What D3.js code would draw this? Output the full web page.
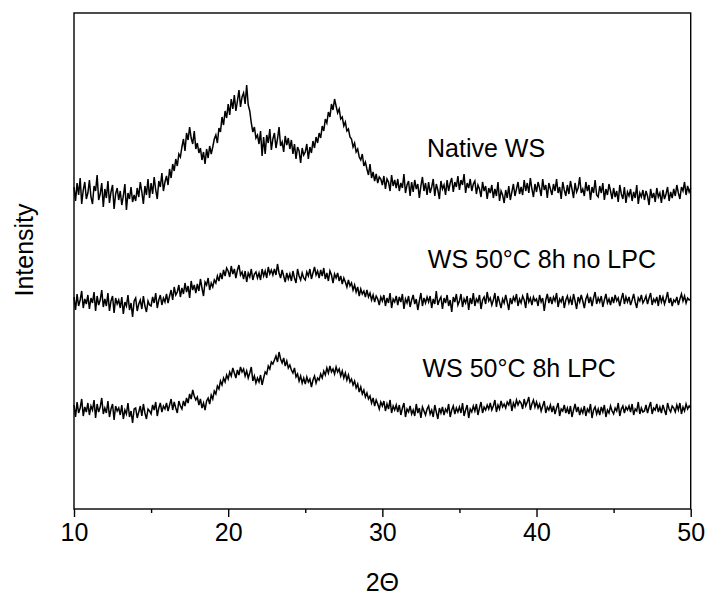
<!DOCTYPE html>
<html>
<head>
<meta charset="utf-8">
<script src="https://cdn.jsdelivr.net/npm/d3@7/dist/d3.min.js"></script>
<style>
  html, body { margin: 0; padding: 0; background: #fff; }
  svg { display: block; font-family: Arial, "Liberation Sans", Helvetica, sans-serif; }
</style>
</head>
<body>
<svg id="chart" width="708" height="595"></svg>
<script>
// 2θ grid: 10.0 to 50.0, step 0.1
const twoThetaStart = 10;
const twoThetaStep = 0.1;

const xTicks = [10, 20, 30, 40, 50];
const xMinorTicks = [15, 25, 35, 45];
const seriesNames = ["Native WS", "WS 50\u00B0C 8h no LPC", "WS 50\u00B0C 8h LPC"];

const nativeWS = [
322,308,326,314,331,305,319,327,310,316,
329,312,305,323,318,334,309,315,326,302,
320,311,328,306,317,324,300,315,321,309,
318,304,313,325,299,316,310,322,307,314,
308,321,312,327,317,305,323,314,330,311,
326,315,332,319,310,328,322,336,318,327,
333,324,340,331,345,338,350,343,355,352,
362,370,358,376,369,382,371,365,378,360,
366,356,361,349,357,345,360,351,363,355,
362,370,374,366,381,377,392,384,398,391,
405,394,410,400,414,398,408,419,402,412,
416,405,424,404,398,386,377,382,371,374,
365,378,353,372,355,374,366,380,359,370,
376,361,370,382,363,367,357,373,364,371,
360,369,355,365,350,362,358,346,361,354,
357,365,350,362,356,368,361,372,366,376,
371,383,378,390,386,397,392,405,399,410,
403,396,400,390,392,383,387,378,380,372,
370,362,366,357,360,352,349,355,343,347,
340,334,345,331,337,328,335,326,332,330,
324,333,320,330,327,318,334,323,329,321,
330,318,326,321,335,316,324,328,313,327,
317,329,320,325,311,323,332,318,326,314,
327,316,322,330,313,325,319,310,328,320,
324,314,329,318,326,331,317,327,322,333,
319,329,324,335,316,326,321,330,318,325,
328,315,324,320,312,327,318,323,310,321,
316,324,311,320,313,327,308,318,314,306,
319,311,323,309,317,325,313,320,327,315,
322,314,329,318,326,316,331,320,312,325,
317,327,321,313,330,319,324,311,326,320,
314,325,318,330,316,322,310,327,319,313,
324,315,328,320,311,326,317,321,332,316,
320,313,327,318,324,309,322,316,329,314,
312,323,316,326,309,320,314,325,318,310,
321,312,318,307,324,315,310,322,306,317,
313,320,308,317,311,324,305,316,312,319,
309,318,313,304,320,311,316,307,321,312,
316,306,319,310,315,322,308,317,311,320,
313,324,316,310,322,318,327,314,323,317,
321];

const ws50NoLPC = [
212,199,215,203,209,218,201,210,205,214,
200,211,206,217,198,213,204,209,219,202,
210,203,216,198,208,213,196,211,205,209,
201,212,195,207,203,214,199,206,192,208,
211,198,205,209,200,213,203,197,208,204,
203,212,206,216,201,209,214,204,211,207,
215,206,213,219,209,222,214,217,224,212,
221,215,226,217,223,211,228,219,224,216,
225,218,230,221,213,227,224,231,219,226,
222,229,226,233,228,236,230,239,233,241,
238,232,243,235,240,231,239,244,234,237,
230,238,227,236,232,240,229,235,237,231,
236,229,240,233,238,231,242,235,239,234,
240,234,245,236,231,239,233,227,236,230,
235,228,238,231,226,240,233,229,236,231,
229,237,233,240,230,236,242,234,238,231,
239,233,241,230,236,228,238,234,226,235,
231,236,228,233,225,231,227,222,229,223,
226,219,224,217,222,213,220,215,218,212,
219,212,216,209,214,207,213,210,204,212,
208,214,203,211,206,216,201,210,207,213,
204,212,207,215,200,210,206,213,202,209,
214,205,210,199,208,216,203,211,206,212,
207,213,201,210,205,218,204,209,212,200,
211,206,214,203,209,197,212,207,215,204,
208,215,202,210,206,213,199,211,205,216,
203,210,207,214,200,209,212,205,217,208,
211,204,209,216,202,213,207,201,210,206,
214,207,199,211,205,212,208,215,203,210,
206,213,209,201,216,207,211,204,212,208,
210,203,214,207,211,198,209,215,206,212,
205,212,208,216,202,210,207,213,201,209,
213,206,211,204,215,208,200,212,207,214,
208,201,210,214,206,212,203,211,217,205,
211,207,213,202,209,215,206,210,204,212,
206,214,208,211,203,210,216,205,212,207,
212,204,209,215,207,201,211,208,214,206,
209,213,205,211,216,204,210,207,212,203,
214,207,212,205,210,217,206,211,203,209,
207,212,204,210,215,208,213,206,211,209,
210];

const ws50LPC = [
104,92,107,96,101,110,93,102,97,106,
94,103,99,109,91,105,97,102,111,95,
101,96,108,92,100,105,89,103,98,101,
94,104,90,99,95,106,92,98,86,100,
101,91,97,103,93,105,96,90,100,98,
95,104,99,107,93,101,106,97,103,100,
106,98,104,110,99,107,101,96,108,103,
100,108,103,111,106,115,110,119,113,109,
112,104,110,101,106,99,108,111,105,114,
110,118,115,123,120,128,124,131,127,134,
130,137,133,141,136,131,139,134,142,137,
140,133,138,131,136,142,128,133,126,131,
127,134,124,131,137,135,143,140,147,145,
149,153,147,157,150,146,151,143,148,141,
144,139,136,141,132,135,128,133,126,131,
125,132,127,130,122,129,133,126,131,129,
135,131,138,134,141,136,143,137,140,135,
142,137,140,133,138,131,136,129,134,127,
130,124,128,121,125,117,122,115,119,112,
116,110,113,106,111,103,109,105,100,107,
103,108,98,105,100,109,96,103,99,104,
97,104,94,101,106,92,100,97,103,95,
99,93,105,96,101,91,102,98,94,100,
103,95,99,92,104,97,90,101,96,102,
94,100,97,105,92,99,103,95,101,97,
102,96,106,93,99,104,91,100,97,103,
98,105,94,101,107,96,102,99,104,100,
106,99,103,109,97,104,100,108,102,105,
101,107,104,110,98,106,102,109,104,108,
106,100,110,103,107,112,99,105,109,102,
107,101,105,98,103,108,96,102,99,104,
97,103,95,101,106,93,100,98,104,96,
101,95,103,92,99,105,97,102,94,100,
96,103,93,100,97,105,91,99,102,95,
100,94,102,97,104,92,99,96,103,98,
95,101,98,106,93,100,103,96,102,99,
103,97,105,94,100,98,107,95,101,97,
98,104,96,102,107,95,101,99,105,97,
102,96,104,99,94,106,100,97,103,101,
97,104,99,106,95,102,98,105,100,103,
101];

const allSeries = [nativeWS, ws50NoLPC, ws50LPC];
// label anchor (2θ, intensity) for each series name
const labelAt = [[32.9, 352], [32.95, 241], [32.6, 132]];

const svg = d3.select("#chart");
const plotLeft = 74, plotRight = 690.7, plotTop = 13, plotBottom = 509;

const x = d3.scaleLinear().domain([10, 50]).range([plotLeft, plotRight]);
const y = d3.scaleLinear().domain([0, 496]).range([plotBottom, plotTop]);

const line = d3.line()
  .x((d, i) => x(twoThetaStart + i * twoThetaStep))
  .y(d => y(d));

allSeries.forEach(s => {
  svg.append("path")
    .datum(s)
    .attr("d", line)
    .attr("fill", "none")
    .attr("stroke", "#000")
    .attr("stroke-width", 1.5)
    .attr("stroke-linejoin", "miter");
});

// frame
svg.append("rect")
  .attr("x", plotLeft).attr("y", plotTop)
  .attr("width", plotRight - plotLeft).attr("height", plotBottom - plotTop)
  .attr("fill", "none").attr("stroke", "#000").attr("stroke-width", 1.4);

// x axis with major ticks
const xAxis = d3.axisBottom(x).tickValues(xTicks).tickFormat(d3.format("d"))
  .tickSize(8).tickPadding(6);
const gx = svg.append("g").attr("transform", `translate(0,${plotBottom})`).call(xAxis);
gx.select(".domain").remove();
gx.selectAll(".tick line").attr("stroke", "#000").attr("stroke-width", 1.4);
gx.selectAll(".tick text").attr("font-size", 25).attr("fill", "#000")
  .attr("font-family", "Arial, 'Liberation Sans', sans-serif");

// minor ticks
const xAxisMinor = d3.axisBottom(x).tickValues(xMinorTicks).tickFormat("").tickSize(4);
const gm = svg.append("g").attr("transform", `translate(0,${plotBottom})`).call(xAxisMinor);
gm.select(".domain").remove();
gm.selectAll(".tick line").attr("stroke", "#000").attr("stroke-width", 1.4);

// axis titles
svg.append("text")
  .attr("x", x(30)).attr("y", 591)
  .attr("text-anchor", "middle")
  .attr("font-size", 25)
  .text("2\u0398");

svg.append("text")
  .attr("transform", `translate(33,250) rotate(-90)`)
  .attr("text-anchor", "middle")
  .attr("font-size", 25)
  .text("Intensity");

// series labels
seriesNames.forEach((name, i) => {
  svg.append("text")
    .attr("x", x(labelAt[i][0]))
    .attr("y", y(labelAt[i][1]))
    .attr("font-size", 25)
    .attr("fill", "#000")
    .text(name);
});
</script>
</body>
</html>
